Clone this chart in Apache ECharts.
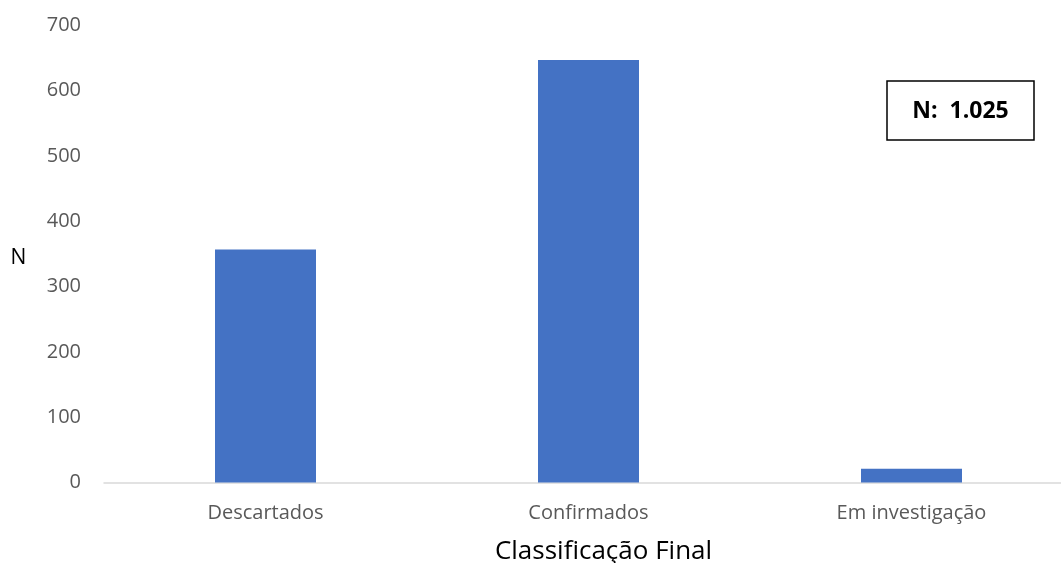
<!DOCTYPE html>
<html>
<head>
<meta charset="utf-8">
<script src="https://cdn.jsdelivr.net/npm/echarts@6/dist/echarts.min.js"></script>
<style>
  html, body { margin: 0; padding: 0; background: #ffffff; overflow: hidden; }
  /* canvas is a little wider than the window: the plot area runs past the right edge */
  #chart { width: 1073px; height: 563px; }
</style>
</head>
<body>
<div id="chart"></div>
<script>
// Classificação final dos casos
const categories = ['Descartados', 'Confirmados', 'Em investigação'];
const counts = [357, 647, 21];
const yTicks = [0, 100, 200, 300, 400, 500, 600, 700];
const totalLabel = 'N:  1.025';

const FONT = '"Open Sans", "Liberation Sans", sans-serif';

const chart = echarts.init(document.getElementById('chart'));
chart.setOption({
  animation: false,
  backgroundColor: '#ffffff',
  grid: { left: 104, top: 25.5, right: 0, height: 457, containLabel: false },
  xAxis: {
    type: 'category',
    data: categories,
    axisLine: { lineStyle: { color: '#d9d9d9', width: 1.5 } },
    axisTick: { show: false },
    axisLabel: { color: '#595959', fontSize: 20, fontFamily: FONT, margin: 21 }
  },
  yAxis: {
    type: 'value',
    min: yTicks[0],
    max: yTicks[yTicks.length - 1],
    interval: 100,
    axisLine: { show: false },
    axisTick: { show: false },
    splitLine: { show: false },
    axisLabel: { color: '#595959', fontSize: 20, fontFamily: FONT, margin: 23 }
  },
  series: [{
    type: 'bar',
    data: counts,
    barWidth: 101,
    itemStyle: { color: '#4472c4' }
  }],
  graphic: [
    {
      type: 'text', x: 18.5, y: 258.5,
      style: { text: 'N', fontSize: 21, fontFamily: FONT, fill: '#000000', align: 'center', verticalAlign: 'middle' }
    },
    {
      type: 'text', x: 603.5, y: 552,
      style: { text: 'Classificação Final', fontSize: 26, fontFamily: FONT, fill: '#000000', align: 'center', verticalAlign: 'middle' }
    },
    {
      type: 'rect', x: 887, y: 81,
      shape: { width: 147, height: 59 },
      style: { fill: '#ffffff', stroke: '#000000', lineWidth: 1.5 }
    },
    {
      type: 'text', x: 960.5, y: 111,
      style: {
        text: totalLabel, fontSize: 23, fontWeight: 'bold', fontFamily: FONT,
        fill: '#000000', align: 'center', verticalAlign: 'middle'
      }
    }
  ]
});
</script>
</body>
</html>
